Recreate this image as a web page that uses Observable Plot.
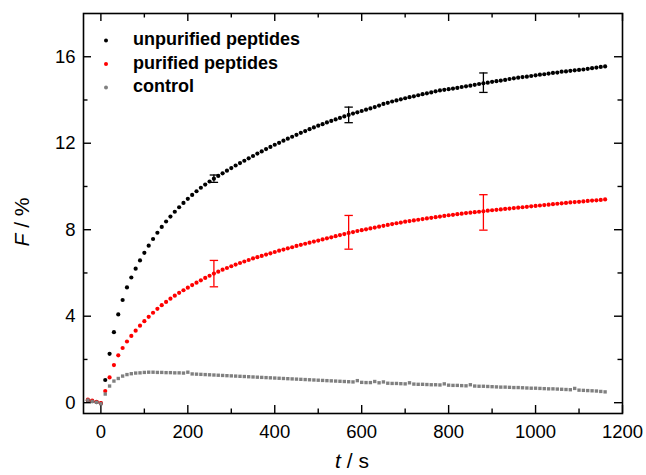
<!DOCTYPE html>
<html><head><meta charset="utf-8">
<script src="https://cdn.jsdelivr.net/npm/d3@7"></script>
<script src="https://cdn.jsdelivr.net/npm/@observablehq/plot@0.6"></script>
<style>
body{margin:0;background:#fff}
#chart{width:646px;height:475px}
#chart svg{font-family:"Liberation Sans",Arial,sans-serif;color:#000}
</style>
</head><body><div id="chart"></div>
<script>
const time = [-30,-20,-10,0,
10,20,30,40,50,60,70,80,90,100,
110,120,130,140,150,160,170,180,190,200,
210,220,230,240,250,260,270,280,290,300,
310,320,330,340,350,360,370,380,390,400,
410,420,430,440,450,460,470,480,490,500,
510,520,530,540,550,560,570,580,590,600,
610,620,630,640,650,660,670,680,690,700,
710,720,730,740,750,760,770,780,790,800,
810,820,830,840,850,860,870,880,890,900,
910,920,930,940,950,960,970,980,990,1000,
1010,1020,1030,1040,1050,1060,1070,1080,1090,1100,
1110,1120,1130,1140,1150,1160];

const unpurified = [0.10,0.07,0.03,-0.03,
1.05,2.26,3.26,4.08,4.75,5.33,5.79,6.20,6.58,6.93,
7.26,7.57,7.86,8.13,8.38,8.61,8.83,9.04,9.24,9.43,
9.61,9.78,9.94,10.09,10.23,10.36,10.49,10.61,10.73,10.85,
10.97,11.08,11.19,11.30,11.41,11.52,11.62,11.73,11.83,11.93,
12.02,12.12,12.21,12.30,12.39,12.48,12.56,12.65,12.73,12.81,
12.88,12.96,13.03,13.10,13.17,13.24,13.31,13.37,13.43,13.49,
13.55,13.61,13.67,13.74,13.82,13.87,13.93,13.98,14.03,14.08,
14.13,14.17,14.22,14.27,14.31,14.35,14.40,14.44,14.47,14.50,
14.53,14.56,14.60,14.63,14.66,14.70,14.74,14.77,14.80,14.84,
14.87,14.90,14.93,14.97,15.00,15.03,15.06,15.08,15.11,15.14,
15.17,15.19,15.22,15.25,15.27,15.31,15.32,15.35,15.37,15.39,
15.41,15.44,15.47,15.50,15.53,15.55];

const purified = [0.14,0.10,0.04,-0.02,
0.54,1.17,1.74,2.19,2.53,2.83,3.09,3.33,3.56,3.77,
3.97,4.16,4.34,4.51,4.66,4.81,4.95,5.08,5.20,5.32,
5.44,5.55,5.66,5.77,5.87,5.97,6.06,6.15,6.23,6.31,
6.39,6.46,6.53,6.60,6.67,6.73,6.79,6.85,6.91,6.97,
7.03,7.08,7.14,7.19,7.25,7.30,7.35,7.40,7.45,7.50,
7.55,7.60,7.65,7.70,7.75,7.80,7.85,7.89,7.94,7.98,
8.02,8.06,8.10,8.14,8.18,8.22,8.26,8.30,8.33,8.37,
8.40,8.43,8.46,8.49,8.52,8.55,8.58,8.61,8.64,8.67,
8.69,8.72,8.74,8.77,8.79,8.81,8.83,8.85,8.88,8.90,
8.92,8.94,8.96,8.98,9.00,9.02,9.04,9.06,9.08,9.10,
9.12,9.14,9.16,9.18,9.20,9.22,9.24,9.26,9.28,9.29,
9.31,9.33,9.35,9.36,9.38,9.40];

const control = [0.12,0.06,0.02,-0.05,
0.40,0.77,1.00,1.12,1.23,1.30,1.34,1.37,1.38,1.40,
1.41,1.41,1.40,1.40,1.39,1.39,1.38,1.38,1.37,1.41,
1.33,1.32,1.31,1.30,1.29,1.28,1.27,1.26,1.25,1.24,
1.23,1.22,1.21,1.20,1.19,1.18,1.17,1.16,1.15,1.14,
1.13,1.12,1.11,1.10,1.09,1.08,1.07,1.06,1.05,1.04,
1.03,1.02,1.01,1.00,0.99,0.98,0.97,0.96,1.02,0.94,
0.93,0.93,0.98,0.92,0.96,0.90,0.89,0.89,0.88,0.87,
0.92,0.86,0.85,0.85,0.84,0.83,0.83,0.82,0.87,0.81,
0.80,0.80,0.79,0.78,0.83,0.77,0.76,0.76,0.75,0.74,
0.73,0.72,0.72,0.71,0.70,0.70,0.69,0.68,0.67,0.67,
0.66,0.65,0.64,0.64,0.63,0.62,0.61,0.60,0.66,0.58,
0.57,0.56,0.55,0.54,0.52,0.50];

const errTime = [260, 570, 880];
const unpurifiedErrMid = [10.36, 13.31, 14.80];
const unpurifiedErr = [0.17, 0.36, 0.45];
const purifiedErrMid = [5.97, 7.88, 8.80];
const purifiedErr = [0.61, 0.78, 0.82];

const seriesNames = ["unpurified peptides", "purified peptides", "control"];
const seriesColors = ["#000000", "#ff0000", "#808080"];

const xTicks = [0, 200, 400, 600, 800, 1000, 1200];
const xMinor = [100, 300, 500, 700, 900, 1100];
const yTicks = [0, 4, 8, 12, 16];
const yMinor = [2, 6, 10, 14];

// layout
const W = 646, H = 475, mL = 83, mR = 24, mT = 13, mB = 62;
const pw = W - mL - mR, ph = H - mT - mB;

const series = [unpurified, purified, control].map((vals, k) =>
  time.map((t, i) => ({t, v: vals[i], k})));
const errData = [
  errTime.map((t, i) => ({t, mid: unpurifiedErrMid[i], e: unpurifiedErr[i], k: 0})),
  errTime.map((t, i) => ({t, mid: purifiedErrMid[i], e: purifiedErr[i], k: 1}))
];

const capSymbol = {draw(ctx) { ctx.moveTo(-4.2, 0); ctx.lineTo(4.2, 0); }};

const marks = [
  Plot.ruleX(xTicks, {x: d => d, insetTop: ph - 8, strokeWidth: 1.4}),
  Plot.ruleX(xTicks, {x: d => d, insetBottom: ph - 8, strokeWidth: 1.4}),
  Plot.ruleX(xMinor, {x: d => d, insetTop: ph - 4.5, strokeWidth: 1.4}),
  Plot.ruleX(xMinor, {x: d => d, insetBottom: ph - 4.5, strokeWidth: 1.4}),
  Plot.ruleY(yTicks, {y: d => d, insetRight: pw - 8, strokeWidth: 1.4}),
  Plot.ruleY(yTicks, {y: d => d, insetLeft: pw - 8, strokeWidth: 1.4}),
  Plot.ruleY(yMinor, {y: d => d, insetRight: pw - 4.5, strokeWidth: 1.4}),
  Plot.ruleY(yMinor, {y: d => d, insetLeft: pw - 4.5, strokeWidth: 1.4}),
  Plot.axisX(xTicks, {anchor: "bottom", tickSize: 0, tickPadding: 11, fontSize: 18.5, label: null, tickFormat: d => String(d)}),
  Plot.axisY(yTicks, {anchor: "left", tickSize: 0, tickPadding: 8, fontSize: 18.5, label: null, tickFormat: d => String(d)}),
  Plot.dot(series[0], {x: "t", y: "v", r: 2.1, fill: seriesColors[0]}),
  Plot.dot(series[1], {x: "t", y: "v", r: 2.1, fill: seriesColors[1]}),
  Plot.dot(series[2], {x: "t", y: "v", r: 1.9, symbol: "square", fill: seriesColors[2]})
];
errData.forEach((ed, k) => {
  marks.push(Plot.ruleX(ed, {x: "t", y1: d => d.mid - d.e, y2: d => d.mid + d.e, stroke: seriesColors[k], strokeWidth: 1.3}));
  marks.push(Plot.dot(ed, {x: "t", y: d => d.mid - d.e, symbol: capSymbol, fill: "none", stroke: seriesColors[k], strokeWidth: 1.3, r: 4}));
  marks.push(Plot.dot(ed, {x: "t", y: d => d.mid + d.e, symbol: capSymbol, fill: "none", stroke: seriesColors[k], strokeWidth: 1.3, r: 4}));
});
marks.push(Plot.frame({stroke: "#000", strokeWidth: 1.6}));

const svg = Plot.plot({
  width: W, height: H,
  marginLeft: mL, marginRight: mR, marginTop: mT, marginBottom: mB,
  x: {domain: [-40, 1200]},
  y: {domain: [-0.5, 18]},
  style: {fontFamily: "'Liberation Sans', Arial, sans-serif", color: "#000", background: "#fff"},
  marks
});
document.getElementById("chart").appendChild(svg);

// axis titles and legend
const s = d3.select(svg);
const yt = s.append("text")
  .attr("transform", "translate(22,222) rotate(-90)")
  .attr("text-anchor", "middle").attr("dy", "0.35em")
  .attr("font-size", 21).attr("fill", "#000");
yt.append("tspan").attr("font-style", "italic").text("F");
yt.append("tspan").text(" / %");
const xt = s.append("text")
  .attr("x", 352).attr("y", 468)
  .attr("text-anchor", "middle")
  .attr("font-size", 21).attr("fill", "#000");
xt.append("tspan").attr("font-style", "italic").text("t");
xt.append("tspan").text(" / s");

const lg = s.append("g").attr("text-anchor", "start");
seriesNames.forEach((name, i) => {
  const by = 45 + i * 23.5;
  lg.append("circle").attr("cx", 106).attr("cy", by - 4.5).attr("r", 2).attr("fill", seriesColors[i]);
  lg.append("text").attr("x", 133).attr("y", by).attr("text-anchor", "start")
    .attr("font-size", 18).attr("font-weight", "bold").attr("fill", "#000").text(name);
});
</script>
</body></html>
